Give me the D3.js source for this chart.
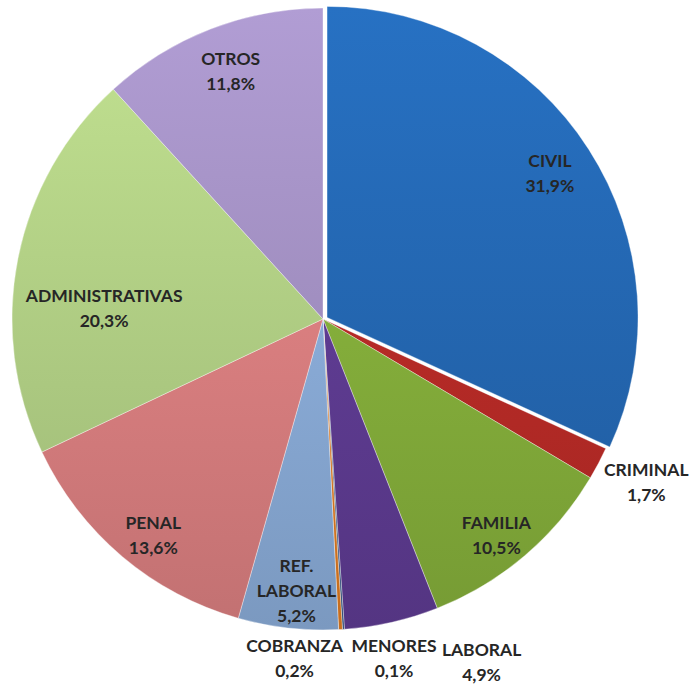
<!DOCTYPE html>
<html>
<head>
<meta charset="utf-8">
<script src="https://cdn.jsdelivr.net/npm/d3@7"></script>
<style>
  body { margin: 0; background: #fff; }
  text { font-family: Lato, "Open Sans", sans-serif; font-weight: bold; fill: #262626; }
</style>
</head>
<body>
<div id="chart"></div>
<script>
    // slices in clockwise order starting at 12 o'clock
    var categories = ['CIVIL', 'CRIMINAL', 'FAMILIA', 'LABORAL', 'MENORES', 'COBRANZA', 'REF. LABORAL', 'PENAL', 'ADMINISTRATIVAS', 'OTROS'];
    var values = [31.9, 1.7, 10.5, 4.9, 0.1, 0.2, 5.2, 13.6, 20.3, 11.8];
    var valueLabels = ['31,9%', '1,7%', '10,5%', '4,9%', '0,1%', '0,2%', '5,2%', '13,6%', '20,3%', '11,8%'];
    var sliceColors = ['#2467b2', '#b92b27', '#86b03b', '#5f3c93', '#2c4f80', '#e07b22', '#8badda', '#dc8081', '#b1cf85', '#a290c2'];

    var width = 691,
        height = 685,
        cx = 323,
        cy = 319,
        radius = 311;

    // label tweaks (the original had hand placed labels outside the pie)
    var outside = { 'CRIMINAL': true, 'LABORAL': true, 'MENORES': true, 'COBRANZA': true };
    var nudge = {
        'CIVIL': [-2, 1],
        'OTROS': [6, 6],
        'ADMINISTRATIVAS': [48, 42],
        'PENAL': [6, 8],
        'FAMILIA': [-3, 9],
        'REF. LABORAL': [4, 1],
        'CRIMINAL': [0, -6],
        'LABORAL': [78, -13],
        'MENORES': [47, -25],
        'COBRANZA': [-49, -25]
    };

    var data = categories.map(function(c, i) {
        return { name: c, value: values[i], label: valueLabels[i], color: sliceColors[i] };
    });

    var pie = d3.pie()
        .sort(null)
        .value(function(d) { return d.value; });

    var arcs = pie(data);

    var arc = d3.arc()
        .innerRadius(0)
        .outerRadius(radius);

    var insideArc = d3.arc().innerRadius(272).outerRadius(272);
    var outsideArc = d3.arc().innerRadius(365).outerRadius(365);

    var svg = d3.select('#chart')
        .append('svg')
            .attr('width', width)
            .attr('height', height);

    var defs = svg.append('defs');

    // vertical light-to-dark shading across the whole pie
    arcs.forEach(function(d, i) {
        var c = d3.color(d.data.color);
        var g = defs.append('linearGradient')
            .attr('id', 'grad' + i)
            .attr('gradientUnits', 'userSpaceOnUse')
            .attr('x1', 0).attr('y1', -radius)
            .attr('x2', 0).attr('y2', radius);
        g.append('stop').attr('offset', '0%').attr('stop-color', c.brighter(0.25));
        g.append('stop').attr('offset', '100%').attr('stop-color', c.darker(0.35));
    });

    var g = svg.append('g')
        .attr('transform', 'translate(' + cx + ',' + cy + ')');

    g.selectAll('path.slice')
        .data(arcs)
        .enter().append('path')
            .attr('class', 'slice')
            .attr('d', arc)
            .attr('transform', function(d) {
                if (d.data.name !== 'CIVIL') return null;
                var c = d3.arc().innerRadius(0).outerRadius(12).centroid(d);
                return 'translate(' + (c[0] * 0.8) + ',' + (c[1] * 0.5) + ')';
            })
            .style('fill', function(d, i) { return 'url(#grad' + i + ')'; })
            .style('stroke', '#ffffff')
            .style('stroke-opacity', 0.35)
            .style('stroke-width', 1);

    var labels = g.selectAll('text.lbl')
        .data(arcs)
        .enter().append('text')
            .attr('class', 'lbl')
            .attr('text-anchor', 'middle')
            .style('font-size', '17.5px')
            .attr('transform', function(d) {
                var p = outside[d.data.name] ? outsideArc.centroid(d) : insideArc.centroid(d);
                var n = nudge[d.data.name] || [0, 0];
                return 'translate(' + (p[0] + n[0]) + ',' + (p[1] + n[1]) + ')';
            });

    labels.each(function(d) {
        var lines = d.data.name === 'REF. LABORAL' ? ['REF.', 'LABORAL'] : [d.data.name];
        lines.push(d.data.label);
        var t = d3.select(this);
        lines.forEach(function(line, j) {
            t.append('tspan')
                .attr('x', 0)
                .attr('y', (j - (lines.length - 1) / 2) * 25)
                .attr('dominant-baseline', 'central')
                .text(line);
        });
    });
</script>
</body>
</html>
